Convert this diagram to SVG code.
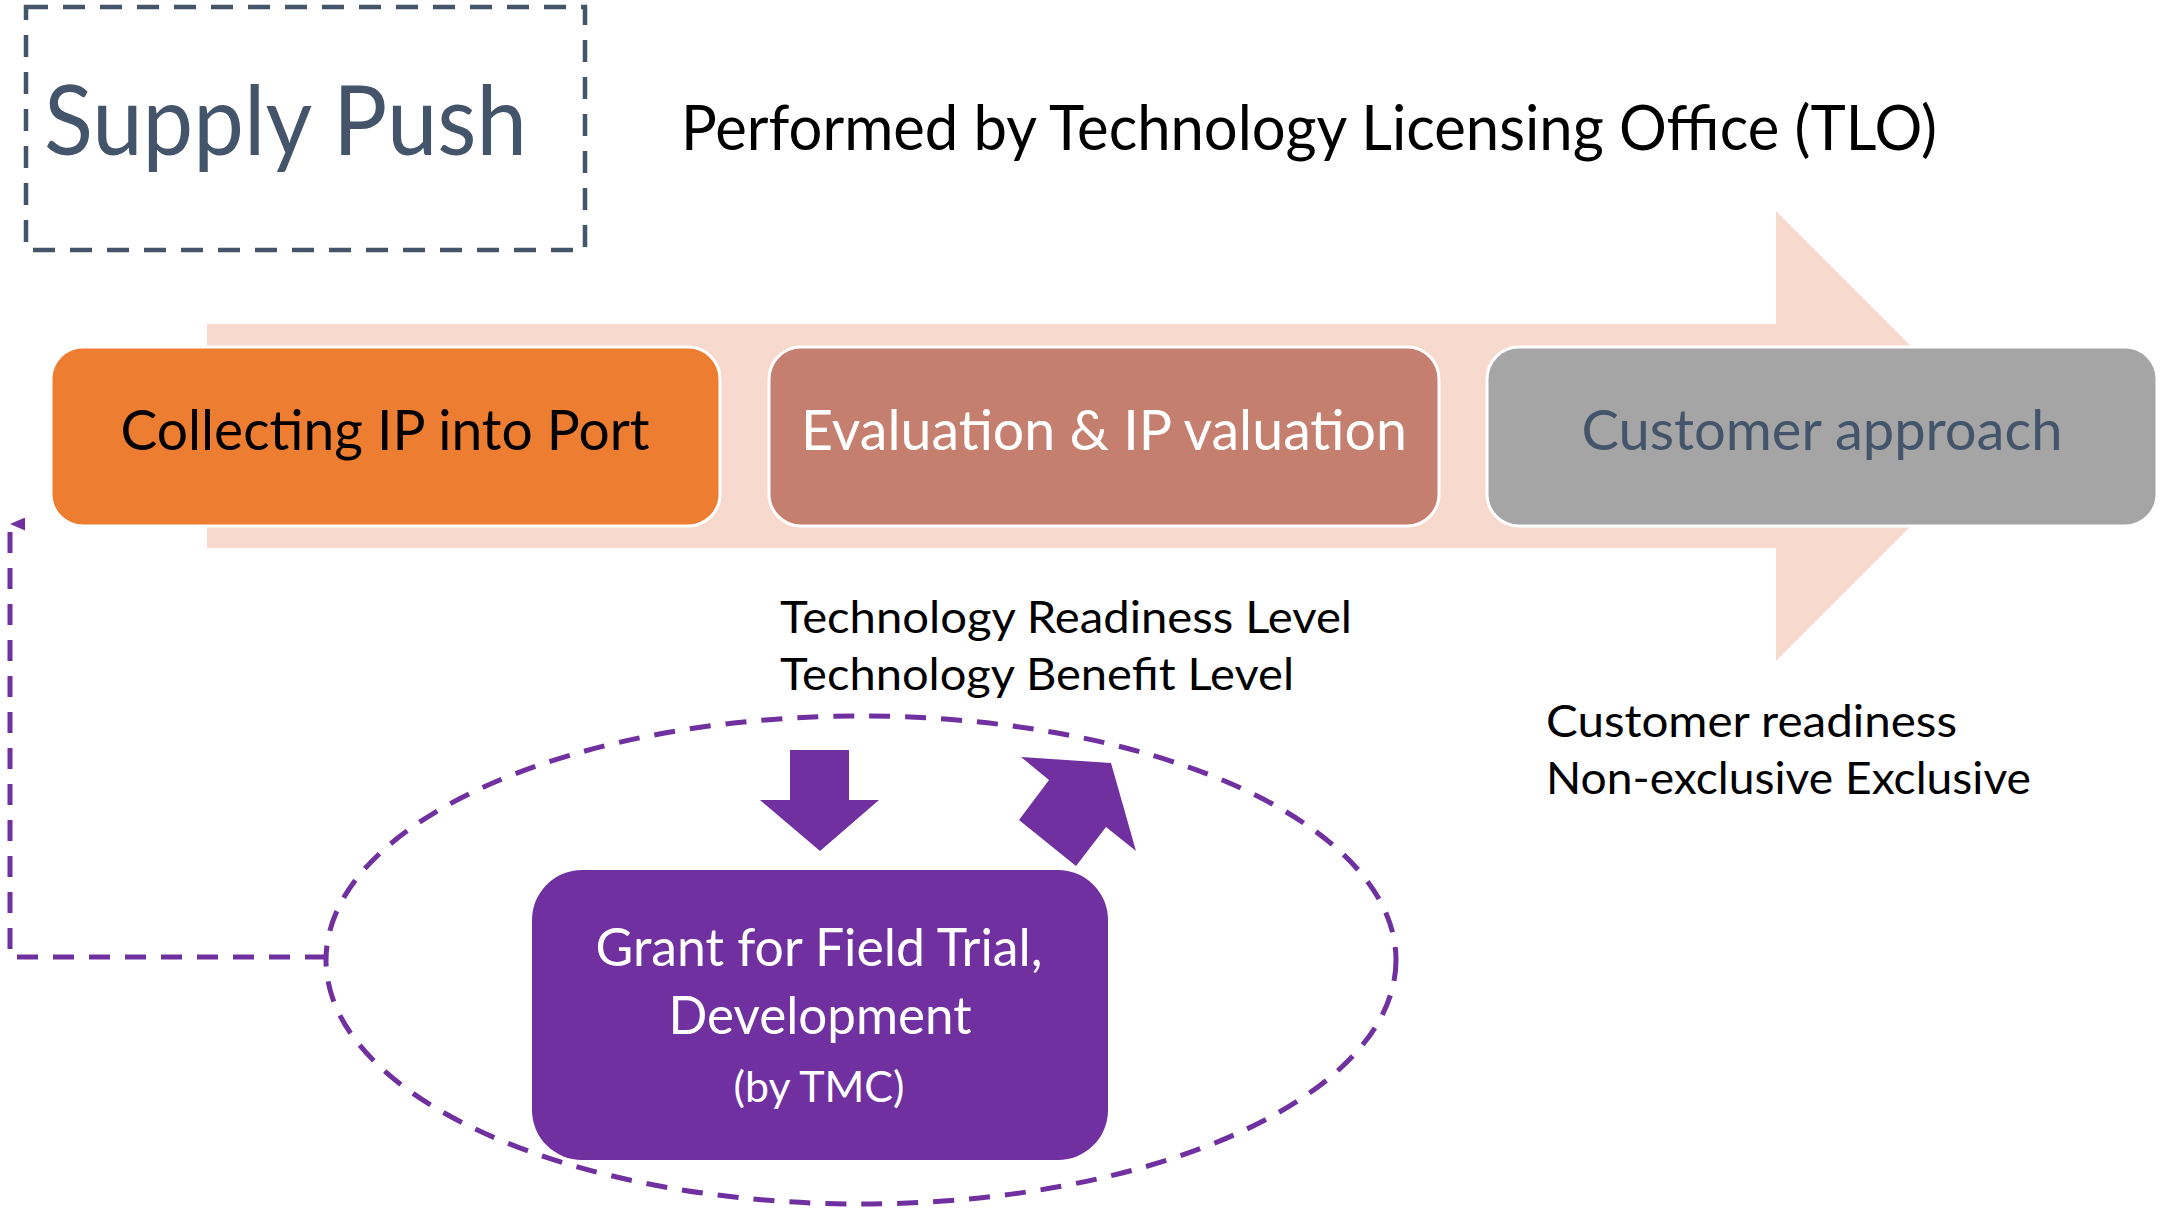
<svg xmlns="http://www.w3.org/2000/svg" width="2165" height="1210" viewBox="0 0 2165 1210">
  <defs>
    <style>
      text { font-family: Lato, "Liberation Sans", sans-serif; }
      .step { stroke: #FFFFFF; stroke-width: 3; }
      .label { fill: #000000; font-size: 45px; }
      .steptext { font-size: 57px; text-anchor: middle; }
      .grant { fill: #FFFFFF; text-anchor: middle; }
      .purple-dash { fill: none; stroke: #7030A0; stroke-width: 5; stroke-dasharray: 21 15; }
    </style>
    <marker id="tip" viewBox="0 0 13 15" refX="6.5" refY="0" markerWidth="13" markerHeight="15" markerUnits="userSpaceOnUse" orient="auto-start-reverse">
      <path d="M0,15 L6.5,0 L13,15 Z" fill="#7030A0"/>
    </marker>
  </defs>

  <rect width="2165" height="1210" fill="#FFFFFF"/>

  <!-- heading -->
  <g id="heading">
    <rect x="26" y="7" width="559" height="243" fill="none" stroke="#44546A" stroke-width="4.5" stroke-dasharray="22 15"/>
    <text x="44" y="155" font-size="96" fill="#44546A" textLength="483" lengthAdjust="spacingAndGlyphs">Supply Push</text>
  </g>
  <g id="performer">
    <text x="681" y="150" font-size="61" fill="#000000" textLength="1256" lengthAdjust="spacingAndGlyphs">Performed by Technology Licensing Office (TLO)</text>
  </g>

  <!-- process backdrop arrow -->
  <g id="process-arrow">
    <polygon points="207,324 1776,324 1776,211 2001,436 1776,661 1776,548 207,548" fill="#F8D9CE"/>
  </g>

  <!-- process steps -->
  <g id="step-collect">
    <rect class="step" x="51" y="347" width="669" height="179" rx="32" fill="#ED7D31"/>
    <text class="steptext" x="385" y="450" fill="#000000" textLength="529" lengthAdjust="spacingAndGlyphs">Collecting IP into Port</text>
  </g>
  <g id="step-evaluate">
    <rect class="step" x="769" y="347" width="670" height="179" rx="32" fill="#C47F6F"/>
    <text class="steptext" x="1104" y="450" fill="#FFFFFF" textLength="606" lengthAdjust="spacingAndGlyphs">Evaluation &amp; IP valuation</text>
  </g>
  <g id="step-customer">
    <rect class="step" x="1487" y="347" width="670" height="179" rx="32" fill="#A5A5A5"/>
    <text class="steptext" x="1822" y="450" fill="#44546A" textLength="481" lengthAdjust="spacingAndGlyphs">Customer approach</text>
  </g>

  <!-- notes -->
  <g id="tech-levels">
    <text class="label" x="780" y="633" textLength="572" lengthAdjust="spacingAndGlyphs">Technology Readiness Level</text>
    <text class="label" x="780" y="690" textLength="514" lengthAdjust="spacingAndGlyphs">Technology Benefit Level</text>
  </g>
  <g id="customer-notes">
    <text class="label" x="1546" y="737" textLength="411" lengthAdjust="spacingAndGlyphs">Customer readiness</text>
    <text class="label" x="1546" y="794" textLength="485" lengthAdjust="spacingAndGlyphs">Non-exclusive Exclusive</text>
  </g>

  <!-- grant loop -->
  <g id="grant-loop">
    <ellipse class="purple-dash" cx="861" cy="960" rx="535" ry="244" stroke-dasharray="21 13"/>
  </g>
  <g id="grant">
    <rect x="532" y="870" width="576" height="290" rx="50" fill="#7030A0"/>
    <text class="grant" x="819" y="966" font-size="52" textLength="447" lengthAdjust="spacingAndGlyphs">Grant for Field Trial,</text>
    <text class="grant" x="820" y="1034" font-size="52" textLength="303" lengthAdjust="spacingAndGlyphs">Development</text>
    <text class="grant" x="819" y="1102" font-size="42" textLength="171" lengthAdjust="spacingAndGlyphs">(by TMC)</text>
  </g>

  <!-- connectors -->
  <g id="connectors">
    <polyline class="purple-dash" points="326,957 10,957 10,524" marker-end="url(#tip)"/>
    <polygon points="790,750 849,750 849,800 879,800 820,851 760,800 790,800" fill="#7030A0"/>
    <polygon points="1021,757 1111,763 1136,851 1106,827 1076,866 1019,820 1049,780" fill="#7030A0"/>
  </g>
</svg>
